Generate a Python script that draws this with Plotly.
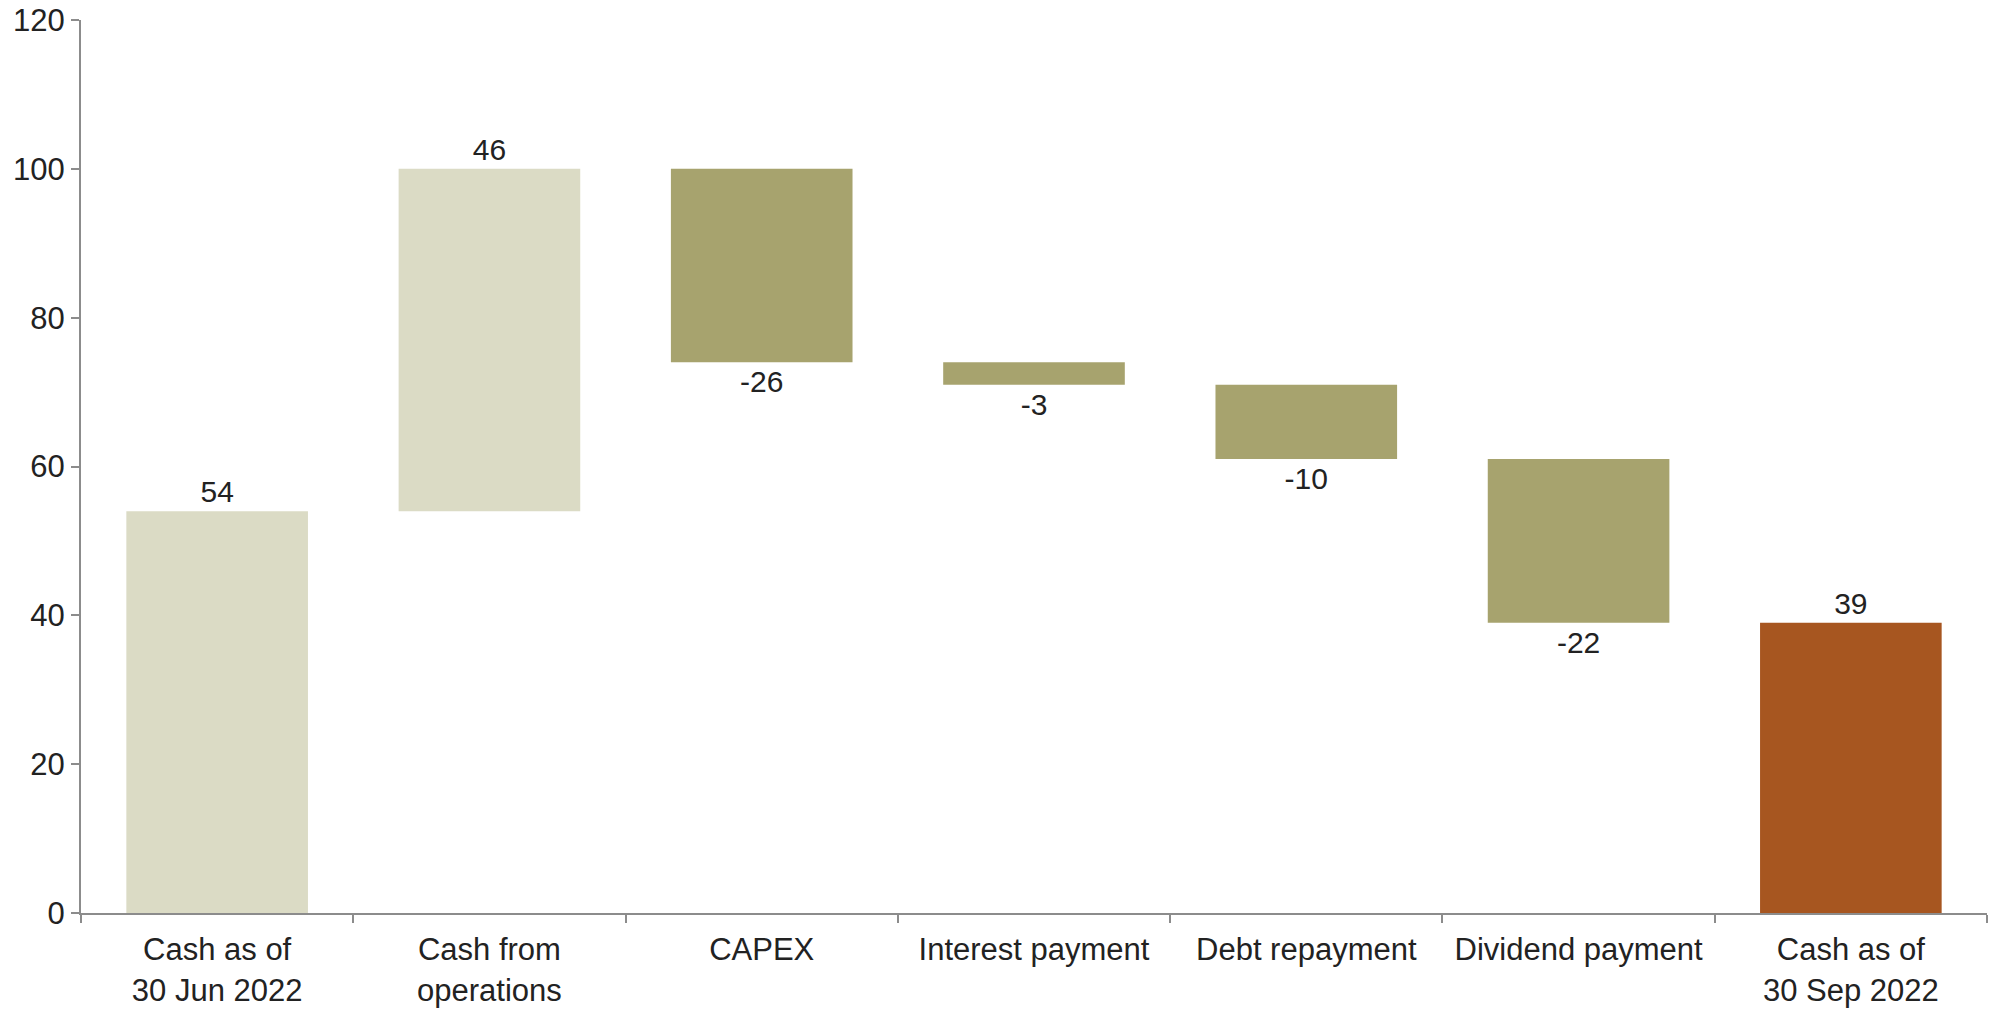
import plotly.graph_objects as go

categories = ["Cash as of<br>30 Jun 2022", "Cash from<br>operations", "CAPEX",
              "Interest payment", "Debt repayment", "Dividend payment",
              "Cash as of<br>30 Sep 2022"]
values = [54, 46, -26, -3, -10, -22, 39]
measures = ["absolute", "relative", "relative", "relative", "relative", "relative", "total"]
y_ticks = [0, 20, 40, 60, 80, 100, 120]

LIGHT = "#DBDBC5"
OLIVE = "#A7A36E"
RUST = "#A75620"

bases, heights, colors = [], [], []
running = 0
for v, m in zip(values, measures):
    if m == "absolute" or m == "total":
        bases.append(0)
        heights.append(v)
        running = v
        colors.append(LIGHT if m == "absolute" else RUST)
    else:
        bases.append(running)
        heights.append(v)
        running += v
        colors.append(LIGHT if v > 0 else OLIVE)

FONT = "Liberation Sans, Arial, sans-serif"
TXT = "#222222"
AX = "#8c8c8c"

fig = go.Figure(go.Bar(
    x=categories, y=heights, base=bases,
    marker=dict(color=colors, line=dict(width=0)),
    width=0.667,
    text=[str(v) for v in values],
    textposition="outside",
    textfont=dict(family=FONT, size=30, color=TXT),
    cliponaxis=False,
    hoverinfo="skip",
))

fig.update_layout(
    width=2001, height=1009,
    margin=dict(l=81, r=14, t=20, b=96),
    paper_bgcolor="white", plot_bgcolor="white",
    showlegend=False,
    font=dict(family=FONT, size=30, color=TXT),
)
fig.update_xaxes(
    automargin=False,
    showline=True, linecolor=AX, linewidth=2,
    ticks="outside", tickson="boundaries", ticklen=8, tickcolor=AX, tickwidth=2,
    ticklabelstandoff=8,
    showgrid=False, tickfont=dict(family=FONT, size=31, color=TXT),
)
fig.update_yaxes(
    automargin=False,
    range=[0, 120], tickvals=y_ticks,
    showline=True, linecolor=AX, linewidth=2,
    ticks="outside", ticklen=8, tickcolor=AX, tickwidth=2,
    showgrid=False, zeroline=False,
    tickfont=dict(family=FONT, size=31, color=TXT),
)

fig.write_html("out.html", config={"displayModeBar": False},
               post_script="document.body.style.margin='0';document.body.style.overflow='hidden';")
